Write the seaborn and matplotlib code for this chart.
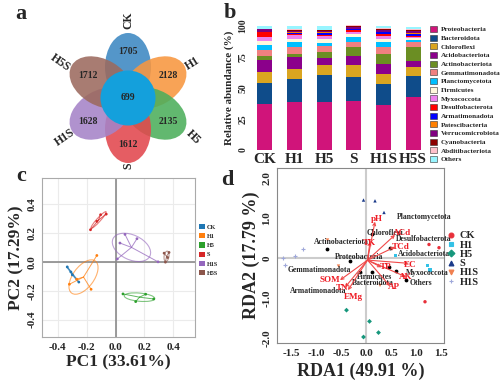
import numpy as np
import pandas as pd
import matplotlib
matplotlib.use("Agg")
import matplotlib.pyplot as plt
import seaborn as sns
from matplotlib.patches import Ellipse, Circle, Patch
from matplotlib.lines import Line2D

# --- data: panel a (flower venn) ---
venn_groups = ['CK', 'H1', 'H5', 'S', 'H1S', 'H5S']
venn_unique = [1705, 2128, 2135, 1612, 1628, 1712]
venn_core = 699

# --- data: panel b (relative abundance, %) ---
samples = ['CK', 'H1', 'H5', 'S', 'H1S', 'H5S']
phyla = ['Proteobacteria', 'Bacteroidota', 'Chloroflexi', 'Acidobacteriota',
         'Actinobacteriota', 'Gemmatimonadota', 'Planctomycetota', 'Firmicutes',
         'Myxococcota', 'Desulfobacterota', 'Armatimonadota', 'Patescibacteria',
         'Verrucomicrobiota', 'Cyanobacteria', 'Abditibacteriota', 'Others']
ab_CK = [37.3, 16.5, 9.3, 9.6, 3.2, 4.5, 4.0, 3.5, 2.7, 4.0, 0.3, 0.3, 1.8, 0.3, 0.3, 2.4]
ab_H1 = [38.9, 17.9, 8.0, 9.9, 2.7, 5.3, 4.0, 2.7, 2.7, 1.3, 0.8, 0.5, 1.3, 0.5, 0.5, 3.0]
ab_H5 = [38.7, 21.3, 8.0, 5.9, 4.8, 5.3, 2.1, 3.2, 2.1, 1.0, 1.6, 0.8, 1.0, 0.5, 0.5, 3.2]
ab_S = [39.5, 19.2, 9.9, 6.9, 7.2, 4.0, 4.0, 2.7, 1.3, 1.9, 0.5, 0.5, 1.3, 0.8, 0.5, 0.3]
ab_H1S = [36.0, 16.8, 8.5, 8.0, 7.5, 6.4, 3.5, 2.7, 1.9, 2.1, 1.3, 0.5, 1.3, 1.0, 0.5, 1.9]
ab_H5S = [42.7, 16.5, 7.5, 4.5, 11.5, 4.0, 2.0, 1.5, 0.8, 1.0, 1.5, 0.8, 1.3, 1.0, 1.0, 1.5]
phyla_colors = ['#D0147A', '#0F4C8A', '#DAA520', '#8B008B', '#6B8E23', '#F08080',
                '#00BFFF', '#FFF8DC', '#EE82EE', '#FF0000', '#0000FF', '#FF7F00',
                '#800080', '#8B0000', '#FFC0CB', '#98F5FF']

# --- data: panel c (PCA) ---
pc_group = ['CK'] * 4 + ['H1'] * 4 + ['H5'] * 4 + ['S'] * 4 + ['H1S'] * 5 + ['H5S'] * 4
pc1 = [-0.335, -0.30, -0.255, -0.31,
       -0.13, -0.32, -0.17, -0.27,
       0.051, 0.264, 0.139, 0.208,
       -0.174, -0.065, -0.104, -0.13,
       0.065, 0.012, 0.294, 0.148, 0.03,
       0.336, 0.37, 0.345, 0.36]
pc2 = [-0.035, -0.09, -0.14, -0.07,
       0.044, -0.155, -0.19, -0.12,
       -0.222, -0.257, -0.275, -0.224,
       0.222, 0.33, 0.326, 0.28,
       0.19, 0.02, 0.0, 0.16, 0.13,
       0.06, 0.065, -0.002, 0.03]
pc_colors = ['#1F77B4', '#FF7F0E', '#2CA02C', '#D62728', '#9467BD', '#8C564B']

# --- data: panel d (RDA) ---
rda_group = ['CK'] * 3 + ['H1'] * 3 + ['H5'] * 4 + ['S'] * 3 + ['H1S'] * 3 + ['H5S'] * 4
rda1 = [1.26, 1.46, 1.18,
        0.59, 1.23, 1.28,
        -0.39, 0.07, 0.25, -0.05,
        -0.05, 0.18, 0.36,
        -0.77, -0.55, 0.28,
        -1.67, -1.42, -1.27, -1.62]
rda2 = [0.34, 0.26, -1.09,
        0.06, -0.19, -0.30,
        -1.30, -1.58, -1.86, -1.97,
        1.45, 1.43, 1.14,
        0.45, -0.20, -0.68,
        0.01, 0.06, 0.22, -0.18]
rda_legend = ['CK', 'H1', 'H5', 'S', 'H1S', 'H1S']
rda_markers = ['o', 's', 'D', '^', 'v', '+']
rda_colors = ['#E8303A', '#33C1E6', '#16977C', '#1A3A8A', '#F07F4F', '#9FA8DA']

species = ['Planctomycetota', 'Chloroflexi', 'Desulfobacterota', 'Actinobacteriota',
           'Acidobacteriota', 'Proteobacteria', 'Gemmatimonadota', 'Firmicutes',
           'Bacteroidota', 'Myxococcota', 'Others', 'Armatimonadota']
sp_x = [0.61, 0.01, 0.60, -1.05, 0.63, -0.63, -1.57, -0.19, -0.29, 0.79, 0.87, -1.53]
sp_y = [1.03, 0.62, 0.47, 0.39, 0.09, 0.03, -0.30, -0.47, -0.62, -0.38, -0.62, -0.82]
dot_x = [-0.79, -0.32, -0.12, 0.11, 0.59, 0.79, 0.47, 0.12, 0.45]
dot_y = [0.22, -0.08, -0.34, -0.34, -0.33, -0.55, 0.24, 0.60, -0.22]

env = ['pH', 'ACd', 'TK', 'TCd', 'EC', 'TP', 'AK', 'AP', 'SOM', 'TN', 'EMg']
env_x = [0.18, 0.58, 0.08, 0.58, 0.85, 0.31, 0.80, 0.48, -0.52, -0.42, -0.36]
env_y = [0.91, 0.58, 0.41, 0.28, -0.13, -0.23, -0.47, -0.70, -0.55, -0.73, -0.80]
env_lab_x = [0.21, 0.71, 0.06, 0.69, 0.88, 0.40, 0.80, 0.55, -0.72, -0.47, -0.25]
env_lab_y = [0.97, 0.63, 0.38, 0.27, -0.18, -0.23, -0.48, -0.72, -0.55, -0.74, -0.98]


def px(x0, y0, x1, y1):
    """figure rect from pixel box (top-left origin)"""
    return [x0 / 500, 1 - y1 / 387, (x1 - x0) / 500, (y1 - y0) / 387]


sns.set_style("white")
plt.rcParams['font.family'] = ['Liberation Serif', 'DejaVu Serif']
plt.rcParams['font.weight'] = 'bold'

fig = plt.figure(figsize=(5, 3.87), dpi=100)

# --- a: flower venn ---
ax_a = fig.add_axes(px(0, 0, 250, 190))
ax_a.set_xlim(0, 250)
ax_a.set_ylim(190, 0)
ax_a.axis('off')
venn_colors = ['#3C88C2', '#F8963F', '#4CAE5B', '#E2474D', '#A583C8', '#9C6A5E']
angles = [-90, -30, 30, 90, 150, 210]
cx, cy = 128, 98
for ang, col in zip(angles, venn_colors):
    t = np.radians(ang)
    ax_a.add_patch(Ellipse((cx + 31 * np.cos(t), cy + 31 * np.sin(t)), 68, 46,
                           angle=ang, facecolor=col, edgecolor='none', alpha=0.88))
ax_a.add_patch(Circle((cx, cy), 27.5, facecolor='#14A0DC', edgecolor='none'))
for ang, n in zip(angles, venn_unique):
    t = np.radians(ang)
    ax_a.text(cx + 46 * np.cos(t), cy + 46 * np.sin(t), str(n), fontsize=7,
              ha='center', va='center', fontweight='bold')
ax_a.text(cx, cy, str(venn_core), fontsize=7, ha='center', va='center', fontweight='bold')
lab_pos = [(128, 20, 90), (193, 63, 32), (193, 137, -45), (128, 166, 90),
           (65, 137, 35), (60, 63, -35)]
for g, (x, y, r) in zip(venn_groups, lab_pos):
    ax_a.text(x, y, g, fontsize=8.5, rotation=r, ha='center', va='center', fontweight='bold')

# --- b: stacked bars ---
ax_b = fig.add_axes(px(250, 25, 428, 150))
ab = pd.DataFrame([ab_CK, ab_H1, ab_H5, ab_S, ab_H1S, ab_H5S], index=samples, columns=phyla)
xs = np.arange(len(samples))
bottom = np.zeros(len(samples))
for ph, col in zip(phyla, phyla_colors):
    ax_b.bar(xs, ab[ph].values, bottom=bottom, width=0.5, color=col, edgecolor='none')
    bottom += ab[ph].values
ax_b.set_xlim(-0.5, 5.5)
ax_b.set_ylim(0, 100.5)
ax_b.set_xticks(xs)
ax_b.set_xticklabels(samples, fontsize=11, fontweight='bold')
ax_b.set_yticks([0, 25, 50, 75, 100])
ax_b.set_yticklabels(['0', '25', '50', '75', '100'], fontsize=7, rotation=90, va='center')
ax_b.tick_params(length=0, pad=2)
ax_b.set_ylabel('Relative abundance (%)', fontsize=8, fontweight='bold', labelpad=3)
for s in ax_b.spines.values():
    s.set_visible(False)
handles = [Patch(facecolor=c, edgecolor='#333333', linewidth=0.4) for c in phyla_colors]
ax_b.legend(handles, phyla, loc='upper left', bbox_to_anchor=(430 / 500, 1 - 26 / 387),
            bbox_transform=fig.transFigure, frameon=False, fontsize=5.2,
            labelspacing=0.3, handlelength=0.9, handleheight=0.9, handletextpad=0.55,
            borderpad=0, borderaxespad=0)

# --- c: PCA ---
ax_c = fig.add_axes(px(42, 178, 195, 337))
pca = pd.DataFrame({'group': pc_group, 'PC1': pc1, 'PC2': pc2})
pal = dict(zip(venn_groups, pc_colors))
ax_c.set_xlim(-0.51, 0.55)
ax_c.set_ylim(-0.52, 0.58)
ax_c.set_xticks([-0.4, -0.2, 0.0, 0.2, 0.4])
ax_c.set_yticks([-0.4, -0.2, 0.0, 0.2, 0.4])
ax_c.grid(True, color='#EBEBEB', lw=0.8)
ax_c.set_axisbelow(True)
ax_c.axhline(0, color='#8A8A8A', lw=1.2, zorder=1)
ax_c.axvline(0, color='#8A8A8A', lw=1.2, zorder=1)
for g, sub in pca.groupby('group', sort=False):
    pts = sub[['PC1', 'PC2']].values
    cen = pts.mean(axis=0)
    for p in pts:
        ax_c.plot([cen[0], p[0]], [cen[1], p[1]], color=pal[g], lw=0.7, alpha=0.75, zorder=2)
    vals, vecs = np.linalg.eigh(np.cov(pts.T))
    vals = np.clip(vals, 1e-6, None)
    ang = np.degrees(np.arctan2(vecs[1, 1], vecs[0, 1]))
    ax_c.add_patch(Ellipse(cen, 2 * 1.15 * np.sqrt(vals[1]), 2 * 1.15 * np.sqrt(vals[0]),
                           angle=ang, facecolor='none', edgecolor=pal[g], lw=0.8,
                           alpha=0.6, zorder=2))
sns.scatterplot(data=pca, x='PC1', y='PC2', hue='group', palette=pal, s=4,
                edgecolor='none', legend=False, ax=ax_c, zorder=3)
ax_c.set_xticklabels(['-0.4', '-0.2', '0.0', '0.2', '0.4'], fontsize=8, fontweight='bold')
ax_c.set_yticklabels(['-0.4', '-0.2', '0.0', '0.2', '0.4'], fontsize=8, fontweight='bold',
                     rotation=90, va='center')
ax_c.tick_params(length=2, pad=2, color='#555555')
ax_c.set_xlabel('PC1 (33.61%)', fontsize=12.5, fontweight='bold', labelpad=2)
ax_c.set_ylabel('PC2 (17.29%)', fontsize=12.5, fontweight='bold', labelpad=2)
for s in ax_c.spines.values():
    s.set_color('#AAAAAA')
    s.set_linewidth(0.8)
handles = [Patch(facecolor=c, edgecolor='none') for c in pc_colors]
ax_c.legend(handles, venn_groups, loc='upper left', bbox_to_anchor=(199 / 500, 1 - 224 / 387),
            bbox_transform=fig.transFigure, frameon=False, fontsize=4.5,
            labelspacing=0.55, handlelength=0.9, handleheight=0.9, handletextpad=0.4,
            borderpad=0, borderaxespad=0)

# --- d: RDA ---
ax_d = fig.add_axes(px(277, 168, 444, 343))
rda = pd.DataFrame({'group': rda_group, 'RDA1': rda1, 'RDA2': rda2})
ax_d.set_xlim(-1.78, 1.56)
ax_d.set_ylim(-2.12, 2.25)
ax_d.axhline(0, color='#CCCCCC', lw=1.5, zorder=1)
ax_d.axvline(0, color='#CCCCCC', lw=1.5, zorder=1)
for g, m, c in zip(venn_groups, rda_markers, rda_colors):
    sub = rda[rda['group'] == g]
    if m == '+':
        sns.scatterplot(data=sub, x='RDA1', y='RDA2', marker=m, color=c, s=10,
                        linewidth=0.8, legend=False, ax=ax_d, zorder=3)
    else:
        sns.scatterplot(data=sub, x='RDA1', y='RDA2', marker=m, color=c, s=6,
                        edgecolor='none', legend=False, ax=ax_d, zorder=3)
ax_d.scatter(dot_x, dot_y, s=3, color='black', zorder=3)
for name, x, y in zip(species, sp_x, sp_y):
    ax_d.text(x, y, name, fontsize=5.5, fontweight='bold', ha='left', va='center', zorder=4)
for name, x, y, lx, ly in zip(env, env_x, env_y, env_lab_x, env_lab_y):
    ax_d.annotate('', xy=(x, y), xytext=(0.03, -0.05),
                  arrowprops=dict(arrowstyle='->', color='#F04848', lw=0.8,
                                  shrinkA=0, shrinkB=0, mutation_scale=5), zorder=4)
    ax_d.text(lx, ly, name, fontsize=6.5, fontweight='bold', color='#EE1C25',
              ha='center', va='center', zorder=5)
ax_d.set_xticks([-1.5, -1.0, -0.5, 0.0, 0.5, 1.0, 1.5])
ax_d.set_xticklabels(['-1.5', '-1.0', '-0.5', '0.0', '0.5', '1.0', '1.5'],
                     fontsize=8, fontweight='bold')
ax_d.set_yticks([-2, -1, 0, 1, 2])
ax_d.set_yticklabels(['-2.0', '-1.0', '0', '1.0', '2.0'], fontsize=8, fontweight='bold',
                     rotation=90, va='center')
ax_d.tick_params(length=2, pad=2, color='#555555')
ax_d.set_xlabel('RDA1 (49.91 %)', fontsize=13, fontweight='bold', labelpad=4)
ax_d.set_ylabel('RDA2 (17.79 %)', fontsize=13, fontweight='bold', labelpad=2)
for s in ax_d.spines.values():
    s.set_color('#888888')
    s.set_linewidth(0.8)
handles = [Line2D([], [], marker=m, color=c, linestyle='none', markersize=3.5,
                  markeredgewidth=0.8)
           for m, c in zip(rda_markers, rda_colors)]
ax_d.legend(handles, rda_legend, loc='upper left', bbox_to_anchor=(446 / 500, 1 - 231 / 387),
            bbox_transform=fig.transFigure, frameon=False, fontsize=7.5,
            labelspacing=0.0, handlelength=1.0, handletextpad=0.3,
            borderpad=0, borderaxespad=0)

# panel letters
for letter, x, y in [('a', 21, 14), ('b', 230, 13), ('c', 21, 176), ('d', 227, 180)]:
    fig.text(x / 500, 1 - y / 387, letter, fontsize=16, fontweight='bold',
             ha='center', va='center')

fig.savefig('out.png', dpi=100)
